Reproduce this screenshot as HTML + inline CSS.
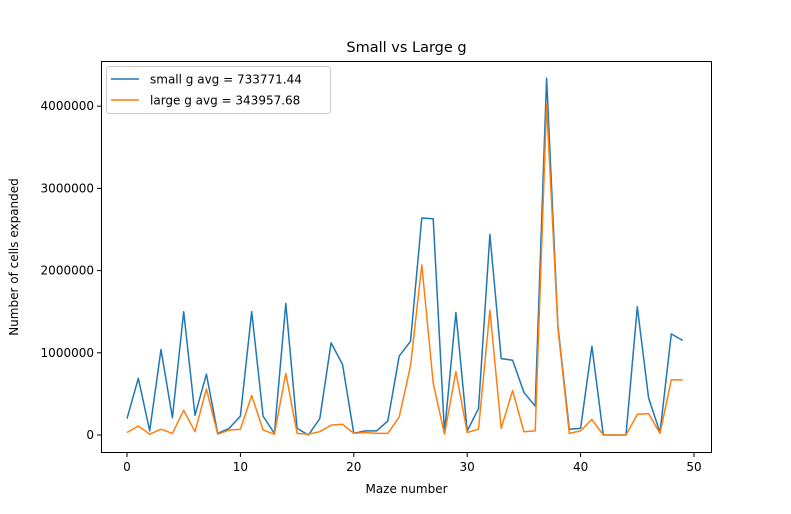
<!DOCTYPE html>
<html><head><meta charset="utf-8"><style>
body{margin:0;background:#fff;font-family:"Liberation Sans","DejaVu Sans",sans-serif}
svg text{font-family:"DejaVu Sans","Liberation Sans",sans-serif;fill:#000}
</style></head><body>
<svg id="c" width="791" height="509"></svg>
<script>
const mazes=[...Array(50).keys()];
const smallG=[0.2,0.69,0.05,1.04,0.21,1.5,0.24,0.74,0.02,0.08,0.23,1.5,0.23,0.02,1.6,0.08,0.0,0.2,1.12,0.86,0.02,0.05,0.05,0.17,0.96,1.14,2.64,2.63,0.03,1.49,0.05,0.32,2.44,0.93,0.91,0.52,0.35,4.34,1.33,0.07,0.08,1.08,0,0,0,1.56,0.45,0.03,1.23,1.15];
const largeG=[0.03,0.11,0.01,0.07,0.02,0.3,0.04,0.56,0.01,0.06,0.07,0.48,0.06,0.01,0.75,0.02,0.01,0.04,0.12,0.13,0.02,0.03,0.02,0.02,0.22,0.84,2.07,0.63,0.01,0.77,0.03,0.07,1.52,0.08,0.54,0.04,0.05,4.02,1.3,0.02,0.05,0.19,0,0,0,0.25,0.26,0.02,0.67,0.67];
const xTicks=[0,10,20,30,40,50];
const yTicks=[0,1,2,3,4];
const yTickLabels=["0","1000000","2000000","3000000","4000000"];
const legendLabels=["small g avg = 733771.44","large g avg = 343957.68"];
const L=101,R=712,T=61,B=453;
const sx=v=>127+v*11.34;
const sy=v=>435-v*82.2;
const svg=document.getElementById('c');
const NS='http://www.w3.org/2000/svg';
function mk(t,a,txt){const e=document.createElementNS(NS,t);for(const k in a)e.setAttribute(k,a[k]);if(txt!==undefined)e.textContent=txt;svg.appendChild(e);return e;}
let e;
e=mk('rect',{x:L,y:T,width:R-L,height:B-T,fill:'#fff',stroke:'none'});


function line(vals,col,name){
 const p=vals.map((v,i)=>sx(mazes[i]).toFixed(1)+','+sy(v).toFixed(1)).join(' ');
 const el=mk('polyline',{points:p,fill:'none',stroke:col,'stroke-width':1.5,'stroke-linejoin':'round'});
 
 
}
line(smallG,'#1f77b4','small-g-line');
line(largeG,'#ff7f0e','large-g-line');
e=mk('rect',{x:L+0.5,y:T+0.5,width:R-L-1,height:B-T-1,fill:'none',stroke:'#000','stroke-width':1});


xTicks.forEach(t=>{
 const x=sx(t);
 e=mk('line',{x1:x,x2:x,y1:B,y2:B+4,stroke:'#000'});
 
 
 e=mk('text',{x:x,y:B+18,'font-size':12,'text-anchor':'middle'},String(t));
 
 
});
yTicks.forEach((t,i)=>{
 const y=sy(t);
 e=mk('line',{x1:L-4,x2:L,y1:y,y2:y,stroke:'#000'});
 
 
 e=mk('text',{x:L-7,y:y+4,'font-size':12,'text-anchor':'end'},yTickLabels[i]);
 
 
});
e=mk('text',{x:(L+R)/2,y:52,'font-size':14.5,'text-anchor':'middle'},'Small vs Large g');


e=mk('text',{x:(L+R)/2,y:493,'font-size':12,'text-anchor':'middle'},'Maze number');


e=mk('text',{x:18,y:257,'font-size':12,'text-anchor':'middle',transform:'rotate(-90 18 257)'},'Number of cells expanded');


e=mk('rect',{x:106.5,y:66.5,width:224,height:47,rx:3,fill:'#fff',stroke:'#ccc'});


['#1f77b4','#ff7f0e'].forEach((c,i)=>{
 const y=79+i*21;
 e=mk('line',{x1:111,x2:139,y1:y,y2:y,stroke:c,'stroke-width':1.5});
 
 
 e=mk('text',{x:150,y:y+4.5,'font-size':12},legendLabels[i]);
 
 
});
</script>
</body></html>
